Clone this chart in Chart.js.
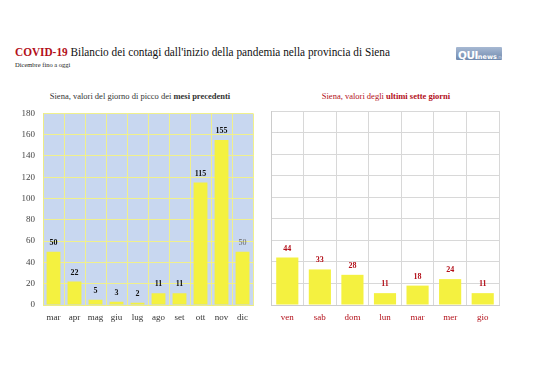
<!DOCTYPE html>
<html><head><meta charset="utf-8">
<script src="https://cdn.jsdelivr.net/npm/chart.js@4"></script>
<style>
html,body{margin:0;padding:0;background:#fff;}
body{width:538px;height:380px;position:relative;overflow:hidden;font-family:"Liberation Serif","DejaVu Serif",serif;}
#title{position:absolute;left:15px;top:44px;font-size:13px;color:#111;white-space:nowrap;transform-origin:0 0;}
#title b{color:#b3101a;}
#sub{position:absolute;left:15px;top:61px;font-size:6.5px;color:#222;}
#logo{position:absolute;left:456px;top:47px;width:46px;height:13px;background:linear-gradient(#a7b9d3,#7089ae);border-radius:1px;font-family:"DejaVu Sans",sans-serif;color:#fff;line-height:13px;white-space:nowrap;overflow:hidden;}
#logo .q{font-weight:bold;font-size:10.5px;margin-left:2px;letter-spacing:-0.5px;}
#logo .n{font-size:6.5px;font-weight:bold;}
#logo .s{font-size:5px;opacity:.7;}
.ct{position:absolute;top:91px;font-size:8.5px;text-align:center;white-space:nowrap;}
#t1{left:0;width:280px;color:#333;}
#t2{left:268px;width:236px;color:#b3101a;}
#c1{position:absolute;left:0;top:100px;}
#c2{position:absolute;left:265px;top:100px;}
</style></head>
<body>
<div id="title"><b>COVID-19</b> Bilancio dei contagi dall'inizio della pandemia nella provincia di Siena</div>
<div id="sub">Dicembre fino a oggi</div>
<div id="logo"><span class="q">QUI</span><span class="n">news</span><span class="s">.net</span></div>
<div id="t1" class="ct">Siena, valori del giorno di picco dei <b>mesi precedenti</b></div>
<div id="t2" class="ct">Siena, valori degli <b>ultimi sette giorni</b></div>
<canvas id="c1" width="270" height="235"></canvas>
<canvas id="c2" width="273" height="235"></canvas>
<script>
const monthLabels = ["mar","apr","mag","giu","lug","ago","set","ott","nov","dic"];
const monthValues = [50,22,5,3,2,11,11,115,155,50];
const dayLabels = ["ven","sab","dom","lun","mar","mer","gio"];
const dayValues = [44,33,28,11,18,24,11];
const yTicks = [0,20,40,60,80,100,120,140,160,180];

const serif = '"Liberation Serif","DejaVu Serif",serif';

// fit title width to the reference span
(function(){
  const t = document.getElementById('title');
  const w = t.getBoundingClientRect().width;
  t.style.transform = 'scaleX(' + (375 / w) + ')';
})();

const bgPlugin = {
  id:'bgfill',
  beforeDraw(chart, args, opts){
    if(!opts.color) return;
    const {ctx, chartArea:a} = chart;
    ctx.save(); ctx.fillStyle = opts.color;
    ctx.fillRect(a.left, a.top, a.right-a.left, a.bottom-a.top);
    ctx.restore();
  }
};
const labelPlugin = {
  id:'vlabels',
  afterDatasetsDraw(chart, args, opts){
    const ctx = chart.ctx;
    const meta = chart.getDatasetMeta(0);
    const data = chart.data.datasets[0].data;
    ctx.save();
    ctx.textAlign='center'; ctx.textBaseline='bottom';
    meta.data.forEach((bar,i)=>{
      const light = opts.lightIdx && opts.lightIdx.includes(i);
      ctx.fillStyle = light ? '#666' : opts.color;
      ctx.font = (light ? '' : 'bold ') + '8px ' + serif;
      ctx.fillText(String(data[i]), bar.x, bar.y - 5);
    });
    ctx.restore();
  }
};

function makeChart(id, labels, values, cfg){
  return new Chart(document.getElementById(id), {
    type:'bar',
    data:{labels, datasets:[{data:values, backgroundColor:'#f4f140', borderWidth:0,
      categoryPercentage:1, barPercentage:cfg.barPct}]},
    options:{
      responsive:false, animation:false, events:[],
      layout:{padding:cfg.padding},
      plugins:{legend:{display:false}, tooltip:{enabled:false},
        bgfill:{color:cfg.bg}, vlabels:{color:cfg.labelColor, lightIdx:cfg.lightIdx}},
      scales:{
        x:{grid:{color:cfg.grid, offset:true, drawTicks:false},
           border:{color:cfg.border},
           ticks:{color:cfg.xColor, font:{family:serif,size:9}, padding:7, maxRotation:0, minRotation:0, autoSkip:false},
           afterFit(s){ s.height = 30; }},
        y:{min:0, max:180,
           afterBuildTicks(s){ s.ticks = yTicks.map(v=>({value:v})); },
           grid:{color:cfg.grid, drawTicks:false},
           border:{color:cfg.border},
           ticks:{display:cfg.showY, color:'#444', font:{family:serif,size:9}, padding:8},
           afterFit(s){ s.width = cfg.yWidth; }}
      }
    },
    plugins:[bgPlugin, labelPlugin]
  });
}

makeChart('c1', monthLabels, monthValues, {
  barPct:0.66, padding:{top:12,right:17,left:0,bottom:0}, bg:'#c8d7f0',
  grid:'#f0f08c', border:'#ecec86', xColor:'#333', labelColor:'#111', lightIdx:[9],
  showY:true, yWidth:43
});
makeChart('c2', dayLabels, dayValues, {
  barPct:0.68, padding:{top:11,right:39,left:6,bottom:0}, bg:null,
  grid:'#d8d8d8', border:'#cccccc', xColor:'#b3101a', labelColor:'#b3101a', lightIdx:[],
  showY:false, yWidth:0
});
</script>
</body></html>
